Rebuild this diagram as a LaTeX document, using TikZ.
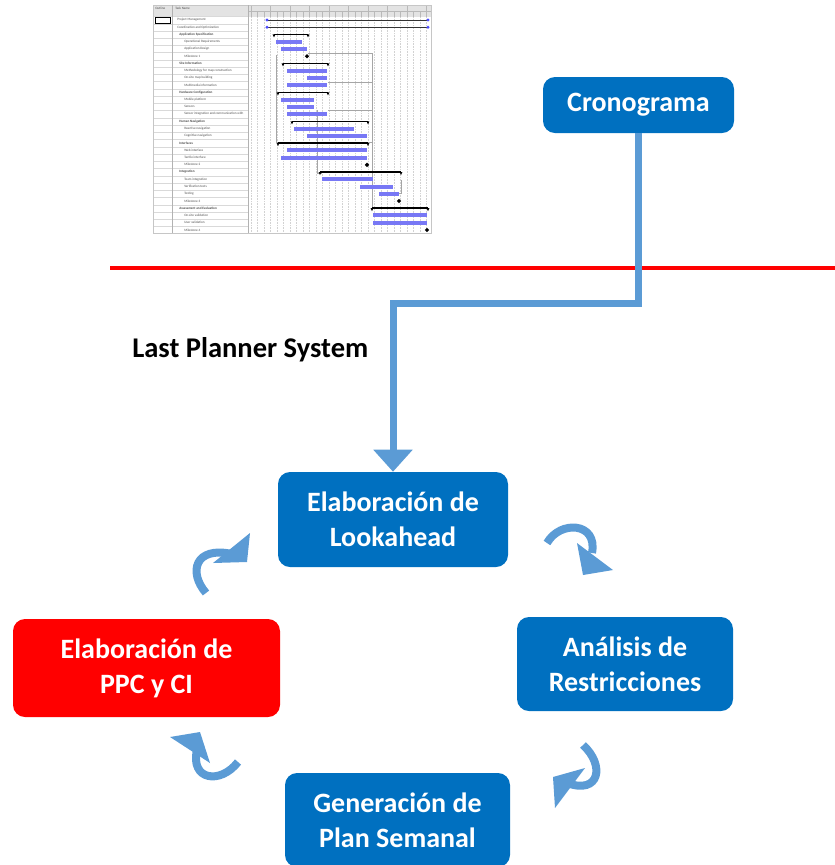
\documentclass[tikz,border=0pt]{standalone}
\usepackage{fontspec}
\setmainfont{Carlito}
\usetikzlibrary{arrows.meta}
\definecolor{boxblue}{RGB}{0,112,192}
\definecolor{lightblue}{RGB}{91,155,213}
\definecolor{ganttblue}{RGB}{120,120,245}
\definecolor{boxred}{RGB}{255,0,0}
\begin{document}
\begin{tikzpicture}[x=0.75pt,y=-0.75pt,
  box/.style={rounded corners=9pt, fill=boxblue, text=white, font=\fontsize{21}{26.25}\selectfont\bfseries, align=center, inner sep=0pt},
  conn/.style={draw=lightblue, line width=5.25pt},
  cyc/.style={draw=lightblue, line width=6pt},
  head/.style={fill=lightblue},
  gtxt/.style={font=\fontsize{2.5}{3}\selectfont, text=black!70, inner sep=0pt, anchor=west},
  gline/.style={draw=gray!70, line width=0.3pt}
]
\useasboundingbox (0,0) rectangle (835,865);

% ---------------- Gantt chart ----------------
\fill[white] (153,5) rectangle (431,233);
\fill[gray!22] (153,5) rectangle (431,17);
\foreach \x in {251,257.5,...,431} \draw[gray!35, densely dotted, line width=0.2pt] (\x,17) -- (\x,233);
\foreach \x in {251,257.5,...,431} \draw[gray!55, line width=0.2pt] (\x,11) -- (\x,17);
\foreach \x in {251,270.5,...,431} \draw[gray!55, line width=0.2pt] (\x,5) -- (\x,11);
\draw[gray!55, line width=0.2pt] (248,11) -- (431,11);
\foreach \r in {0,...,29} \draw[gray!30, line width=0.2pt] (153,{16.4+7.24*\r}) -- (248,{16.4+7.24*\r});
\draw[gray!45, line width=0.3pt] (153,5) rectangle (431,233);
\draw[gray!60, line width=0.3pt] (172,5) -- (172,233);
\draw[gray!60, line width=0.3pt] (248,5) -- (248,233);
\draw[black, line width=0.4pt] (155,17.5) rectangle (170,23);
\node[gtxt] (gh1) at (155,8.5) {Outline};
\node[gtxt] (gh2) at (175,8.5) {Task Name};
\foreach \r/\x/\n in {0/177/Project Management,1/177/Coordination and Optimization,
  2/179/\textbf{Application Specification},3/184/Operational Requirements,4/184/Application Design,5/184/Milestone 1,
  6/179/\textbf{Site Information},7/184/Methodology for map construction,8/184/On-site map building,9/184/Multimedia information,
  10/179/\textbf{Hardware Configuration},11/184/Mobile platform,12/184/Sensors,13/184/Sensor integration and communication with,
  14/179/\textbf{Human Navigation},15/184/Reactive navigation,16/184/Cognitive navigation,
  17/179/\textbf{Interfaces},18/184/Web interface,19/184/Tactile interface,20/184/Milestone 2,
  21/179/\textbf{Integration},22/184/Team integration,23/184/Verification tests,24/184/Testing,25/184/Milestone 3,
  26/179/\textbf{Assessment and Evaluation},27/184/On-site validation,28/184/User validation,29/184/Milestone 4}
  \node[gtxt] (gt\r) at (\x,{20+7.24*\r}) {\n};
% project rows
\foreach \r in {0,1}{
  \draw[black!80, line width=0.5pt] (267,{20+7.24*\r}) -- (428,{20+7.24*\r});
  \fill[blue!70] (267,{18.3+7.24*\r}) -- (268.7,{20+7.24*\r}) -- (267,{21.7+7.24*\r}) -- (265.3,{20+7.24*\r}) -- cycle;
  \fill[blue!70] (428,{18.3+7.24*\r}) -- (429.7,{20+7.24*\r}) -- (428,{21.7+7.24*\r}) -- (426.3,{20+7.24*\r}) -- cycle;
}
% dependency lines
\draw[gline] (276,55) -- (276,142) -- (280,142);
\draw[gline] (308,53) -- (372,53) -- (372,207);
\draw[gline] (328,82.5) -- (372,82.5);
\draw[gline] (328,110) -- (372,110);
\draw[gline] (317,110) -- (317,173) -- (322,173);
\draw[gline] (368,142) -- (372,142);
\draw[gline] (399,193) -- (401,193) -- (401,180);
% summary bars
\foreach \r/\a/\b in {2/274/308,6/283/328,10/278/328,14/292/368,17/278/368,21/320/401,26/372/428}{
  \draw[black, line width=1.2pt] (\a,{20+7.24*\r}) -- (\b,{20+7.24*\r});
  \fill[black] ({\a-1.4},{20+7.24*\r}) -- ({\a+1.4},{20+7.24*\r}) -- (\a,{23+7.24*\r}) -- cycle;
  \fill[black] ({\b-1.4},{20+7.24*\r}) -- ({\b+1.4},{20+7.24*\r}) -- (\b,{23+7.24*\r}) -- cycle;
}
% task bars
\foreach \r/\a/\b in {3/276/302,4/281/307,7/287/327,8/307/327,9/287/327,11/281/314,12/287/314,13/287/327,
  15/294/354,16/307/367,18/287/367,19/281/367,22/322/373,23/360/393,24/379/399,27/373/427,28/373/427}
  \fill[ganttblue] (\a,{18+7.24*\r}) rectangle (\b,{22+7.24*\r});
% milestones
\foreach \r/\a in {5/307,20/367,25/399,29/427}
  \fill[black] (\a,{17.8+7.24*\r}) -- ({\a+2.2},{20+7.24*\r}) -- (\a,{22.2+7.24*\r}) -- ({\a-2.2},{20+7.24*\r}) -- cycle;

% ---------------- red line ----------------
\coordinate (rl1) at (110,268);
\coordinate (rl2) at (835,268);
\draw[boxred, line width=2.4pt] (rl1) -- (rl2);

% ---------------- boxes ----------------
\node[box, minimum width=143.25pt, minimum height=42pt] (crono) at (638.5,105) {Cronograma};
\node[box, minimum width=172.5pt, minimum height=71.25pt] (look) at (393,519.5) {Elaboración de\\Lookahead};
\node[box, minimum width=162pt, minimum height=70.5pt] (restr) at (625,664) {Análisis de\\Restricciones};
\node[box, minimum width=168.75pt, minimum height=70.5pt] (plan) at (397.5,820) {Generación de\\Plan Semanal};
\node[box, fill=boxred, minimum width=200.25pt, minimum height=73.5pt] (ppc) at (146.5,668) {Elaboración de\\PPC y CI};

\node[anchor=west, inner sep=0pt, font=\fontsize{21.4}{25}\selectfont\bfseries] (lps) at (132,350) {Last Planner System};

% ---------------- connector ----------------
\coordinate (bend) at (393,303);
\draw[conn, -{Triangle[length=16.5pt,width=28.5pt]}] (crono.south) |- (bend) -- (look.north);

% ---------------- cycle arrows ----------------
\draw[cyc] (206,593) .. controls (188,572) and (195,546) .. (232,554);
\fill[head] (213,563) -- (250,533) -- (247,562) -- cycle;

\draw[cyc] (547,543) .. controls (560,520) and (598,522) .. (592,553);
\fill[head] (577,543) -- (583,575) -- (613,570) -- cycle;

\draw[cyc] (583,745) .. controls (605,765) and (600,795) .. (567,783);
\fill[head] (553,777) -- (555,808) -- (585,768) -- cycle;

\draw[cyc] (238,762) .. controls (220,785) and (190,780) .. (197,750);
\fill[head] (170,737) -- (200,732) -- (210,763) -- cycle;
\end{tikzpicture}
\end{document}
